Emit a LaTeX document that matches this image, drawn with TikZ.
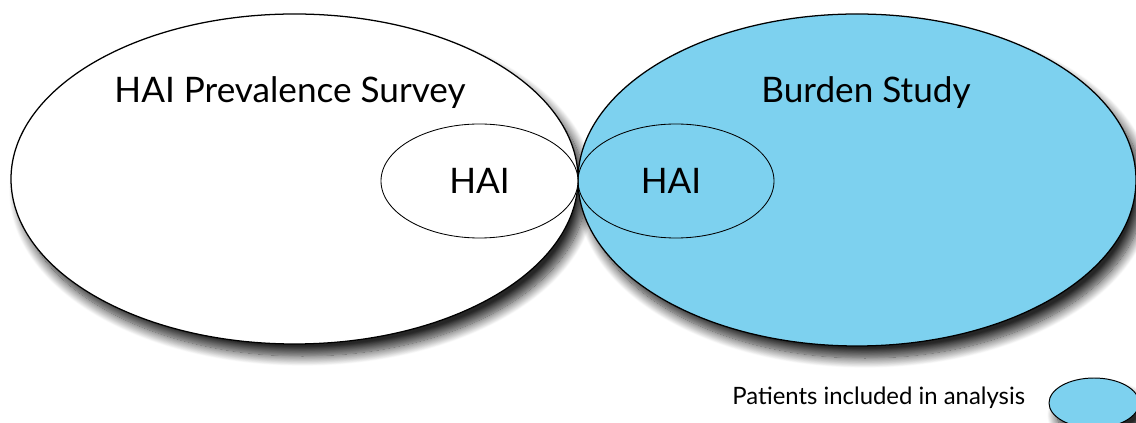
\documentclass[tikz,border=0pt]{standalone}
\usepackage{fontspec}
\setmainfont{Lato}
\usepackage{tikz}
\usetikzlibrary{shapes.geometric, shadows.blur}
\definecolor{burdenblue}{HTML}{7DD1EF}
\tikzstyle{bigset} = [draw, ellipse, line width=0.9pt, inner sep=0, blur shadow={shadow xshift=0.2cm, shadow yshift=-0.3cm, shadow blur radius=0.25cm, shadow blur steps=16, shadow opacity=85}]
\tikzstyle{haiset} = [draw, ellipse, line width=0.6pt, inner sep=0]
\tikzstyle{setlabel} = [font=\fontsize{25}{30}\selectfont]

\begin{document}
\begin{tikzpicture}
      \useasboundingbox (0, 0) rectangle (28.4, -10.575);
      \node[bigset, fill=white, minimum width=14.175cm, minimum height=8.25cm] (survey) at (7.3625, -4.475) {};
      \node[bigset, fill=burdenblue, minimum width=13.95cm, minimum height=8.3cm] (burden) at (21.425, -4.5) {};
      \node[haiset, fill=white, minimum width=4.925cm, minimum height=2.85cm, setlabel] (haisurvey) at (11.9875, -4.525) {HAI};
      \node[haiset, minimum width=4.9cm, minimum height=2.85cm, setlabel] (haiburden) at (16.9, -4.525) {\hspace*{-0.25cm}HAI};

      \node[setlabel] (surveylabel) at (7.25, -2.325) {HAI Prevalence Survey};
      \node[setlabel] (burdenlabel) at (21.65, -2.325) {Burden Study};

      \node[bigset, fill=burdenblue, line width=0.7pt, minimum width=2.25cm, minimum height=1.25cm] (legendset) at (27.35, -10.075) {};
      \node[anchor=east, font=\fontsize{17}{20}\selectfont] (legendlabel) at (25.75, -9.95) {Patients included in analysis};
    \end{tikzpicture}
\end{document}
